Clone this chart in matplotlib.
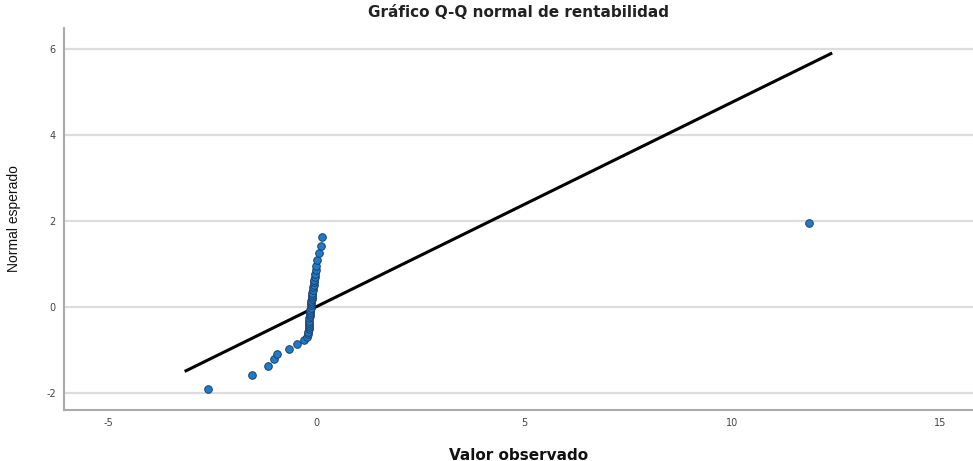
import matplotlib
matplotlib.use('Agg')
import matplotlib.pyplot as plt

plt.rcParams['axes.unicode_minus'] = False

observado = [-2.60, -1.54, -1.15, -1.01, -0.94, -0.65, -0.46, -0.29,
             -0.21, -0.20, -0.19, -0.18, -0.18, -0.17, -0.17, -0.16,
             -0.16, -0.15, -0.15, -0.14, -0.14, -0.13, -0.13, -0.12,
             -0.12, -0.11, -0.10, -0.10, -0.09, -0.08, -0.07, -0.06,
             -0.05, -0.04, -0.03, -0.02, -0.01, 0.00, 0.02,
             0.07, 0.12, 0.14, 11.85]
esperado = [-1.91, -1.58, -1.37, -1.21, -1.09, -0.98, -0.86, -0.77,
            -0.70, -0.64, -0.58, -0.52, -0.47, -0.42, -0.37, -0.32,
            -0.27, -0.22, -0.17, -0.12, -0.07, -0.02, 0.03, 0.08,
            0.13, 0.18, 0.23, 0.28, 0.33, 0.39, 0.45, 0.51,
            0.57, 0.63, 0.70, 0.77, 0.85, 0.95, 1.10,
            1.26, 1.42, 1.63, 1.95]
# recta de referencia (media y desviacion)
media = 0.0
desv = 2.1
x_linea = [-3.13, 12.38]

x_ticks = [-5, 0, 5, 10, 15]
y_ticks = [-2, 0, 2, 4, 6]

fig = plt.figure(figsize=(9.73, 4.61), dpi=100)
ax = fig.add_axes([0.066, 0.111, 0.934, 0.828])

for t in y_ticks:
    ax.axhline(t, color='#dcdcdc', lw=1.6, zorder=0)

y_linea = [(v - media) / desv for v in x_linea]
ax.plot(x_linea, y_linea, color='black', lw=2.2, zorder=2)
ax.scatter(observado, esperado, s=30, color='#1f7bc8', edgecolor='#1d3f66',
           linewidth=0.7, zorder=3)

ax.set_xlim(-6.06, 15.8)
ax.set_ylim(-2.4, 6.49)
ax.set_xticks(x_ticks)
ax.set_yticks(y_ticks)
ax.tick_params(length=0, labelsize=7, colors='#444444', pad=6)
for s in ['top', 'right']:
    ax.spines[s].set_visible(False)
for s in ['left', 'bottom']:
    ax.spines[s].set_color('#aaaaaa')
    ax.spines[s].set_linewidth(1.5)

ax.set_title('Gráfico Q-Q normal de rentabilidad', fontsize=11,
             fontweight='bold', color='#222222', pad=8)
ax.set_xlabel('Valor observado', fontsize=11, fontweight='bold',
              color='#111111', labelpad=14)
ax.set_ylabel('Normal esperado', fontsize=10, color='#111111',
              family=['Liberation Sans', 'DejaVu Sans'])
ax.yaxis.set_label_coords(-0.048, 0.5)

plt.savefig('out.png', dpi=100)
